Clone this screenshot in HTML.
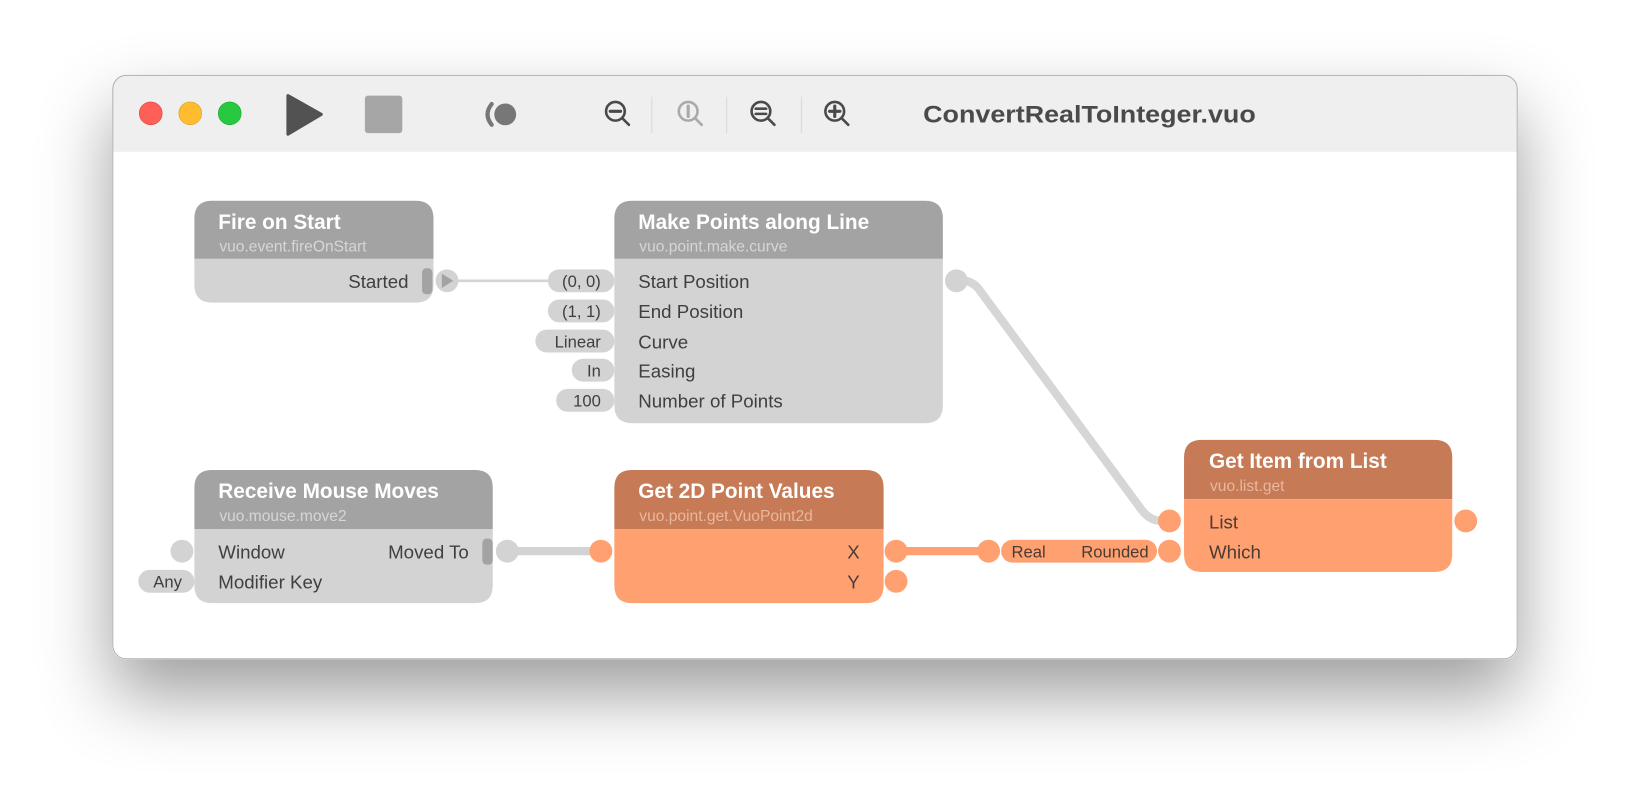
<!DOCTYPE html>
<html><head><meta charset="utf-8"><style>
html,body{margin:0;padding:0;background:#fff;width:1630px;height:808px;overflow:hidden}
svg{display:block}
text{font-family:"Liberation Sans",sans-serif}
</style></head><body>
<svg width="1630" height="808" viewBox="0 0 1568 777" preserveAspectRatio="none" xmlns="http://www.w3.org/2000/svg">
<defs>
<filter id="sh" x="-20%" y="-30%" width="140%" height="180%">
<feDropShadow dx="0" dy="34" stdDeviation="34" flood-color="#000" flood-opacity="0.38"/>
</filter>
<clipPath id="win"><rect x="108" y="72" width="1352" height="562" rx="13"/></clipPath>
</defs>
<rect x="108" y="72" width="1352" height="562" rx="13" fill="#fff" filter="url(#sh)"/>
<g clip-path="url(#win)">
<rect x="108" y="72" width="1352" height="74" fill="#efefef"/>
</g>
<rect x="108.5" y="72.5" width="1351" height="561" rx="13" fill="none" stroke="#b0b0b0"/>
<circle cx="145" cy="109" r="11" fill="#fe5f57" stroke="#e0443e" stroke-width="0.6"/>
<circle cx="183" cy="109" r="11" fill="#febc2e" stroke="#dea123" stroke-width="0.6"/>
<circle cx="221" cy="109" r="11" fill="#28c840" stroke="#1aab29" stroke-width="0.6"/>
<path d="M277 92 L309 110 L277 129 Z" fill="#525252" stroke="#525252" stroke-width="3" stroke-linejoin="round"/>
<rect x="351" y="92" width="36" height="36" rx="3" fill="#a6a6a6"/>
<path d="M473 100 Q465 110 473 120" fill="none" stroke="#777" stroke-width="4" stroke-linecap="round"/>
<circle cx="486" cy="110" r="10.5" fill="#777"/>
<g fill="none" stroke-linecap="round">
<g stroke="#4a4a4a" stroke-width="2.5"><circle cx="592" cy="107" r="9"/><path d="M598.5 113.5 L605 120"/><path d="M587 107 H597" stroke-width="3"/></g>
<g stroke="#aaa" stroke-width="2.5"><circle cx="662" cy="107" r="9"/><path d="M668.5 113.5 L675 120"/><path d="M662 102 V112" stroke-width="3"/></g>
<g stroke="#4a4a4a" stroke-width="2.5"><circle cx="732" cy="107" r="9"/><path d="M738.5 113.5 L745 120"/><path d="M727 104.5 H737 M727 109.5 H737" stroke-width="2.5"/></g>
<g stroke="#4a4a4a" stroke-width="2.5"><circle cx="803" cy="107" r="9"/><path d="M809.5 113.5 L816 120"/><path d="M798 107 H808 M803 102 V112" stroke-width="3"/></g>
</g>
<g stroke="#dcdcdc" stroke-width="1.2"><path d="M627 93 V128 M699 93 V128 M771 93 V128"/></g>
<text x="888" y="118" font-size="23" font-weight="bold" fill="#4a4a4a" textLength="320" lengthAdjust="spacingAndGlyphs">ConvertRealToInteger.vuo</text>

<path d="M441 270 H527" stroke="#d3d3d3" stroke-width="2.5" fill="none"/>
<path d="M920 270 Q935 268 943 280 L1098 490 Q1106 501 1118 501" stroke="#d6d6d6" stroke-width="8" fill="none" stroke-linecap="round"/>
<path d="M488 530 H578" stroke="#d3d3d3" stroke-width="8" fill="none"/>
<path d="M862 530 H951" stroke="#ffa070" stroke-width="8" fill="none"/>

<path d="M187 249 V210 Q187 193 204 193 H400 Q417 193 417 210 V249 Z" fill="#a3a3a3"/>
<path d="M187 249 H417 V274 Q417 291 400 291 H204 Q187 291 187 274 Z" fill="#d3d3d3"/>
<text x="210" y="220" font-size="20" font-weight="bold" fill="#fff">Fire on Start</text>
<text x="211" y="242" font-size="15" fill="#d6d6d6">vuo.event.fireOnStart</text>
<text x="393" y="277" font-size="18" fill="#3f3f3f" text-anchor="end">Started</text>
<rect x="406" y="258" width="10" height="25" rx="4" fill="#a3a3a3"/>
<circle cx="430" cy="270" r="11" fill="#d3d3d3"/>
<path d="M425 263 L436 270 L425 277 Z" fill="#a3a3a3"/>

<path d="M591 249 V210 Q591 193 608 193 H890 Q907 193 907 210 V249 Z" fill="#a3a3a3"/>
<path d="M591 249 H907 V390 Q907 407 890 407 H608 Q591 407 591 390 Z" fill="#d3d3d3"/>
<text x="614" y="220" font-size="20" font-weight="bold" fill="#fff">Make Points along Line</text>
<text x="615" y="242" font-size="15" fill="#d6d6d6">vuo.point.make.curve</text>
<g font-size="18" fill="#3f3f3f">
<text x="614" y="277">Start Position</text>
<text x="614" y="306">End Position</text>
<text x="614" y="335">Curve</text>
<text x="614" y="363">Easing</text>
<text x="614" y="392">Number of Points</text>
</g>
<g fill="#d3d3d3">
<rect x="527" y="259" width="64" height="22" rx="11"/>
<rect x="527" y="288" width="64" height="22" rx="11"/>
<rect x="515" y="317" width="76" height="22" rx="11"/>
<rect x="550" y="345" width="41" height="22" rx="11"/>
<rect x="535" y="374" width="56" height="22" rx="11"/>
</g>
<g font-size="16" fill="#3f3f3f" text-anchor="end">
<text x="578" y="276">(0, 0)</text>
<text x="578" y="305">(1, 1)</text>
<text x="578" y="334">Linear</text>
<text x="578" y="362">In</text>
<text x="578" y="391">100</text>
</g>
<circle cx="920" cy="270" r="11" fill="#d3d3d3"/>

<path d="M187 509 V469 Q187 452 204 452 H457 Q474 452 474 469 V509 Z" fill="#a3a3a3"/>
<path d="M187 509 H474 V563 Q474 580 457 580 H204 Q187 580 187 563 Z" fill="#d3d3d3"/>
<text x="210" y="479" font-size="20" font-weight="bold" fill="#fff">Receive Mouse Moves</text>
<text x="211" y="501" font-size="15" fill="#d6d6d6">vuo.mouse.move2</text>
<g font-size="18" fill="#3f3f3f">
<text x="210" y="537">Window</text>
<text x="210" y="566">Modifier Key</text>
<text x="451" y="537" text-anchor="end">Moved To</text>
</g>
<circle cx="175" cy="530" r="11" fill="#d3d3d3"/>
<rect x="133" y="548" width="54" height="22" rx="11" fill="#d3d3d3"/>
<text x="175" y="565" font-size="16" fill="#3f3f3f" text-anchor="end">Any</text>
<rect x="464" y="518" width="10" height="25" rx="4" fill="#a3a3a3"/>
<circle cx="488" cy="530" r="11" fill="#d3d3d3"/>

<path d="M591 509 V469 Q591 452 608 452 H833 Q850 452 850 469 V509 Z" fill="#c67a55"/>
<path d="M591 509 H850 V563 Q850 580 833 580 H608 Q591 580 591 563 Z" fill="#ffa070"/>
<text x="614" y="479" font-size="20" font-weight="bold" fill="#fff">Get 2D Point Values</text>
<text x="615" y="501" font-size="15" fill="#eab79c">vuo.point.get.VuoPoint2d</text>
<g font-size="18" fill="#4a3b34" text-anchor="end">
<text x="827" y="537">X</text>
<text x="827" y="566">Y</text>
</g>
<circle cx="578" cy="530" r="11" fill="#ffa070"/>
<circle cx="862" cy="530" r="11" fill="#ffa070"/>
<circle cx="862" cy="559" r="11" fill="#ffa070"/>

<circle cx="951" cy="530" r="11" fill="#ffa070"/>
<rect x="963" y="519" width="150" height="22" rx="11" fill="#ffa070"/>
<text x="973" y="536" font-size="16" fill="#4a3b34">Real</text>
<text x="1105" y="536" font-size="16" fill="#4a3b34" text-anchor="end">Rounded</text>

<path d="M1139 480 V440 Q1139 423 1156 423 H1380 Q1397 423 1397 440 V480 Z" fill="#c67a55"/>
<path d="M1139 480 H1397 V533 Q1397 550 1380 550 H1156 Q1139 550 1139 533 Z" fill="#ffa070"/>
<text x="1163" y="450" font-size="20" font-weight="bold" fill="#fff">Get Item from List</text>
<text x="1164" y="472" font-size="15" fill="#eab79c">vuo.list.get</text>
<g font-size="18" fill="#4a3b34">
<text x="1163" y="508">List</text>
<text x="1163" y="537">Which</text>
</g>
<circle cx="1125" cy="501" r="11" fill="#ffa070"/>
<circle cx="1125" cy="530" r="11" fill="#ffa070"/>
<circle cx="1410" cy="501" r="11" fill="#ffa070"/>
</svg>
</body></html>
